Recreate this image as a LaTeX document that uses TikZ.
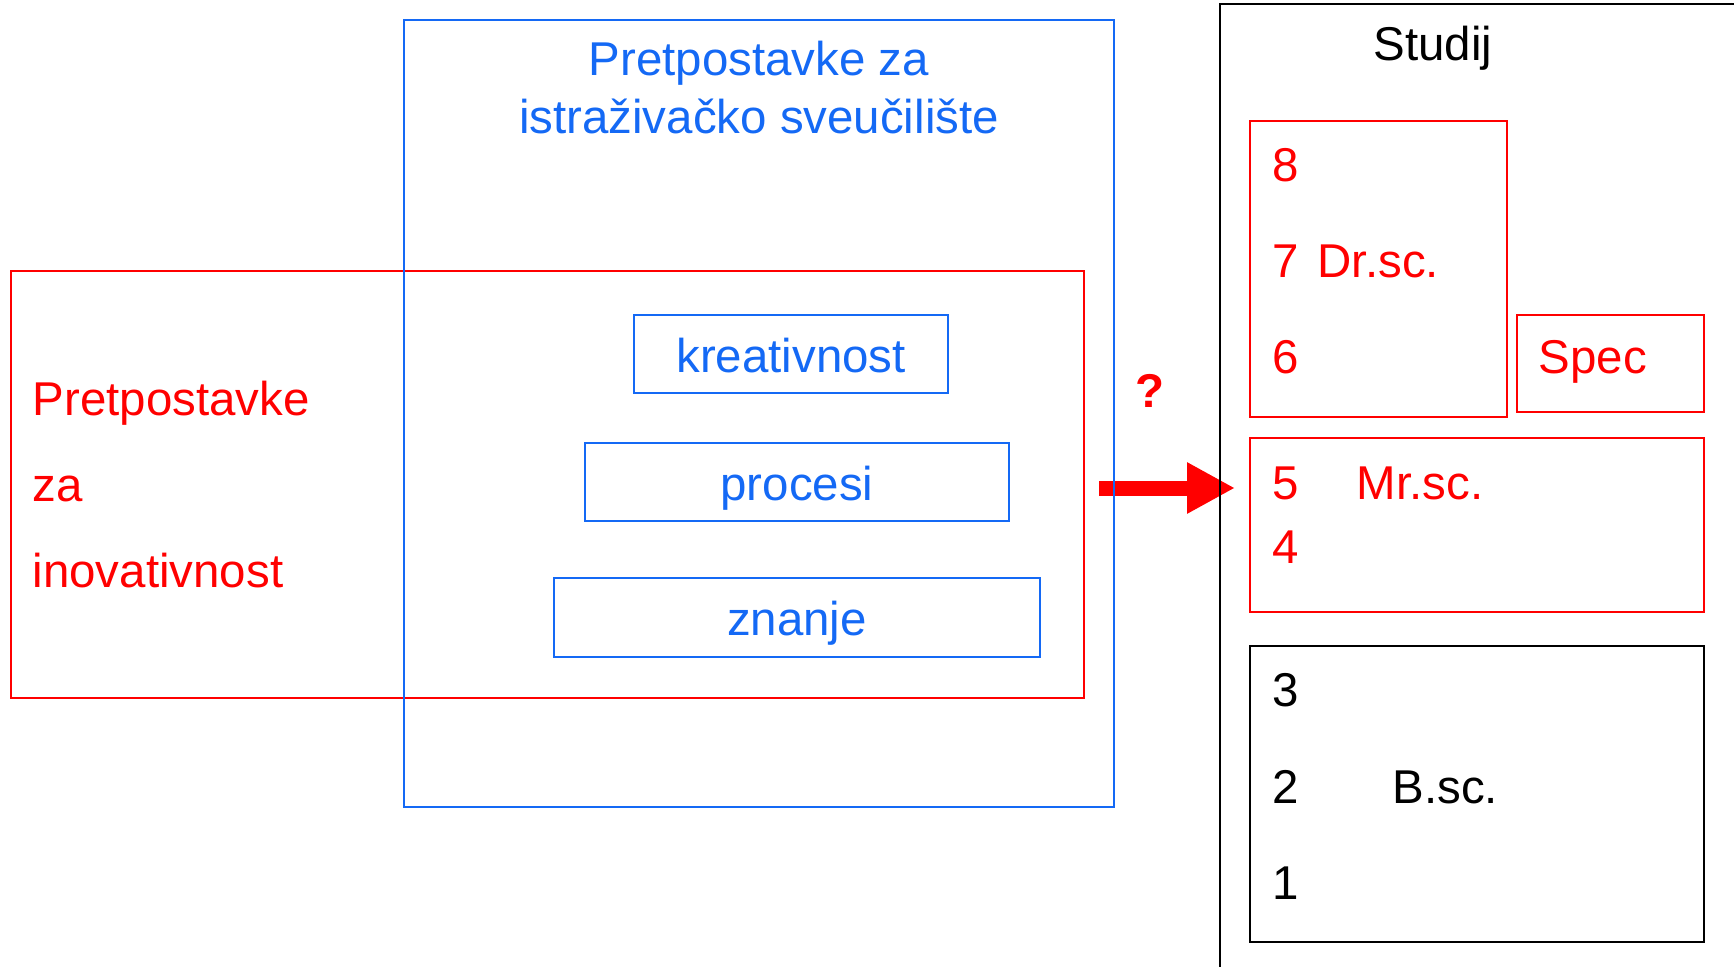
\documentclass[tikz,border=0pt]{standalone}
\usepackage{fontspec}
\setmainfont{Liberation Sans}
\usepackage{tikz}
\usetikzlibrary{arrows.meta,positioning}
\definecolor{uniblue}{RGB}{20,105,245}

\begin{document}
\begin{tikzpicture}[
	every node/.style={font=\fontsize{13.5}{16}\selectfont},
	bluebox/.style={draw=uniblue, line width=0.6pt, inner sep=0pt, text=uniblue, text height=0.43cm, text depth=0.07cm},
	redbox/.style={draw=red, line width=0.6pt, inner sep=0pt},
	blackbox/.style={draw=black, line width=0.8pt, inner sep=0pt},
	lbl/.style={anchor=base west, inner sep=0pt}
	]
	\useasboundingbox (0,0) rectangle (17.34,-9.67);

	\coordinate (arrS) at (10.99,-4.88);
	\coordinate (arrE) at (12.35,-4.88);
	\draw[red, line width=0.15cm, -{Triangle[length=0.48cm, width=0.48cm]}] (arrS) -- (arrE);

	\node[redbox, minimum width=10.73cm, minimum height=4.27cm] (inov) at (5.475,-4.845) {};
	\node[bluebox, minimum width=7.10cm, minimum height=7.87cm] (uni) at (7.59,-4.135) {};

	\node[anchor=base, inner sep=0pt, text=uniblue] (titleA) at (7.59,-0.75) {Pretpostavke za};
	\node[anchor=base, inner sep=0pt, text=uniblue] (titleB) at (7.59,-1.33) {istraživačko sveučilište};

	\node[lbl, text=red] (inovA) at (0.32,-4.15) {Pretpostavke};
	\node[lbl, text=red] (inovB) at (0.32,-5.01) {za};
	\node[lbl, text=red] (inovC) at (0.32,-5.87) {inovativnost};

	\node[bluebox, minimum width=3.14cm, minimum height=0.78cm] (kre) at (7.91,-3.54) {kreativnost};
	\node[bluebox, minimum width=4.24cm, minimum height=0.78cm] (pro) at (7.97,-4.82) {procesi};
	\node[bluebox, minimum width=4.86cm, minimum height=0.79cm] (zna) at (7.97,-6.175) {znanje};

	\node[anchor=base, inner sep=0pt, text=red, font=\fontsize{13.5}{16}\selectfont\bfseries] (q) at (11.50,-4.07) {?};

	\draw[black, line width=0.7pt] (12.20,-9.80) -- (12.20,-0.04) -- (17.50,-0.04);
	\node[lbl] (studij) at (13.73,-0.60) {Studij};

	\node[redbox, minimum width=2.57cm, minimum height=2.96cm] (drsc) at (13.785,-2.69) {};
	\node[redbox, minimum width=1.87cm, minimum height=0.97cm] (spec) at (16.105,-3.635) {};
	\node[redbox, minimum width=4.54cm, minimum height=1.74cm] (mrsc) at (14.77,-5.25) {};
	\node[blackbox, minimum width=4.54cm, minimum height=2.96cm] (bsc) at (14.77,-7.94) {};

	\node[lbl, text=red] (n8) at (12.72,-1.81) {8};
	\node[lbl, text=red] (n7) at (12.72,-2.77) {7};
	\node[lbl, text=red] (dr) at (13.17,-2.77) {Dr.sc.};
	\node[lbl, text=red] (n6) at (12.72,-3.73) {6};
	\node[lbl, text=red] (spectxt) at (15.38,-3.73) {Spec};
	\node[lbl, text=red] (n5) at (12.72,-4.99) {5};
	\node[lbl, text=red] (mr) at (13.56,-4.99) {Mr.sc.};
	\node[lbl, text=red] (n4) at (12.72,-5.63) {4};
	\node[lbl] (n3) at (12.72,-7.06) {3};
	\node[lbl] (n2) at (12.72,-8.03) {2};
	\node[lbl] (bs) at (13.92,-8.03) {B.sc.};
	\node[lbl] (n1) at (12.72,-8.99) {1};
\end{tikzpicture}
\end{document}
